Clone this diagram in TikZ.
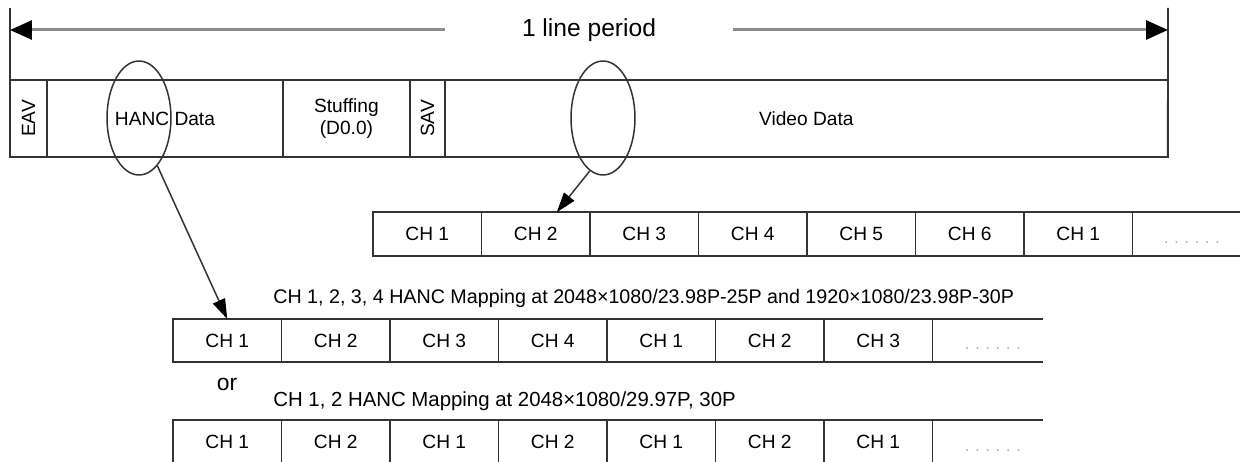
\documentclass[tikz,border=0pt]{standalone}
\usepackage{fontspec}
\setmainfont{Liberation Sans}
\usetikzlibrary{positioning,shapes.geometric,arrows.meta}
\colorlet{framecolor}{black!80}
\colorlet{periodcolor}{black!45}
\tikzset{
    % --- segments of the line ---
    seg/.style={draw=framecolor, line width=0.035cm, minimum height=1.54cm, inner sep=0pt, outer sep=0pt,
                font=\fontsize{10.9}{13}\selectfont},
    frame/.style={draw=framecolor, line width=0.035cm},
    % --- audio channel cells ---
    cell/.style={draw=framecolor, line width=0.035cm, minimum width=2.17cm, minimum height=0.87cm,
                 inner sep=0pt, outer sep=0pt, font=\fontsize{10.9}{12}\selectfont},
    dotfill/.style={text=black!35, inner sep=0pt, font=\fontsize{9}{10}\selectfont},
    caption/.style={anchor=west, inner sep=0pt, font=\fontsize{11.2}{12}\selectfont},
    zoomring/.style={draw=framecolor, line width=0.03cm, ellipse, minimum width=1.28cm,
                     minimum height=2.28cm, inner sep=0pt},
    pointer/.style={draw=framecolor, line width=0.03cm, -{Triangle[length=0.4cm, width=0.26cm, color=black]}},
    periodarrow/.style={draw=periodcolor, line width=0.06cm, -{Triangle[length=0.44cm, width=0.38cm, color=black]}}
}

\begin{document}
\begin{tikzpicture}[x=0.02cm, y=-0.02cm]
    \useasboundingbox (0,0) rectangle (1240,462);

    % one line: EAV, HANC, stuffing, SAV, video
    \node[seg, minimum width=0.74cm, anchor=west] (eav) at (10,118.5) {\rotatebox{90}{EAV}};
    \node[seg, minimum width=4.72cm, right=0pt of eav] (hanc) {HANC Data};
    \node[seg, minimum width=2.54cm, right=0pt of hanc, align=center] (stuff) {Stuffing\\(D0.0)};
    \node[seg, minimum width=0.7cm, right=0pt of stuff] (sav) {\rotatebox{90}{SAV}};
    \node[seg, minimum width=14.46cm, right=0pt of sav] (video) {Video Data};

    \coordinate (barL) at (10,8);
    \coordinate (barR) at (1168,8);
    \draw[frame] (barL) -- (eav.south west);
    \draw[frame] (barR) -- (video.south east);

    \node[font=\fontsize{14}{16}\selectfont, minimum width=5.76cm, inner sep=0pt] (period) at (589,30) {1 line period};
    \draw[periodarrow] (period.west) -- (period.west -| barL);
    \draw[periodarrow] (period.east) -- (period.east -| barR);

    % video data channels
    \foreach \lab [count=\i] in {1,2,3,4,5,6,1}
        \node[cell] (r1c\i) at ({373+108.5*(\i-0.5)},234) {CH \lab};
    \coordinate (r1end) at (1250,0);
    \draw[frame] (r1c7.north east) -- (r1c7.north east -| r1end);
    \draw[frame] (r1c7.south east) -- (r1c7.south east -| r1end);
    \node[dotfill] (r1dots) at (1192,243) {. . . . . .};

    % HANC mapping, 4 channels
    \node[caption] (cap4) at (273,298) {CH 1, 2, 3, 4 HANC Mapping at 2048×1080/23.98P-25P and 1920×1080/23.98P-30P};
    \foreach \lab [count=\i] in {1,2,3,4,1,2,3}
        \node[cell, minimum height=0.86cm] (r2c\i) at ({173+108.5*(\i-0.5)},340.5) {CH \lab};
    \coordinate (r2end) at (1043,0);
    \draw[frame] (r2c7.north east) -- (r2c7.north east -| r2end);
    \draw[frame] (r2c7.south east) -- (r2c7.south east -| r2end);
    \node[dotfill] (r2dots) at (993,349) {. . . . . .};

    % HANC mapping, 2 channels
    \node[font=\fontsize{13}{14}\selectfont, inner sep=0pt] (orword) at (227,384) {or};
    \node[caption, font=\fontsize{11.6}{12}\selectfont] (cap2) at (273,401) {CH 1, 2 HANC Mapping at 2048×1080/29.97P, 30P};
    \foreach \lab [count=\i] in {1,2,1,2,1,2,1}
        \node[cell, minimum height=0.86cm] (r3c\i) at ({173+108.5*(\i-0.5)},441.5) {CH \lab};
    \draw[frame] (r3c7.north east) -- (r3c7.north east -| r2end);
    \draw[frame] (r3c7.south east) -- (r3c7.south east -| r2end);
    \node[dotfill] (r3dots) at (993,451) {. . . . . .};

    % zoom rings
    \node[zoomring] (hancring) at (139,118) {};
    \node[zoomring] (videoring) at (603,118) {};
    \draw[pointer] (hancring.-69) -- (r2c1.north);
    \draw[pointer] (videoring.-104) -- ([xshift=0.42cm]r1c2.north);
\end{tikzpicture}
\end{document}
